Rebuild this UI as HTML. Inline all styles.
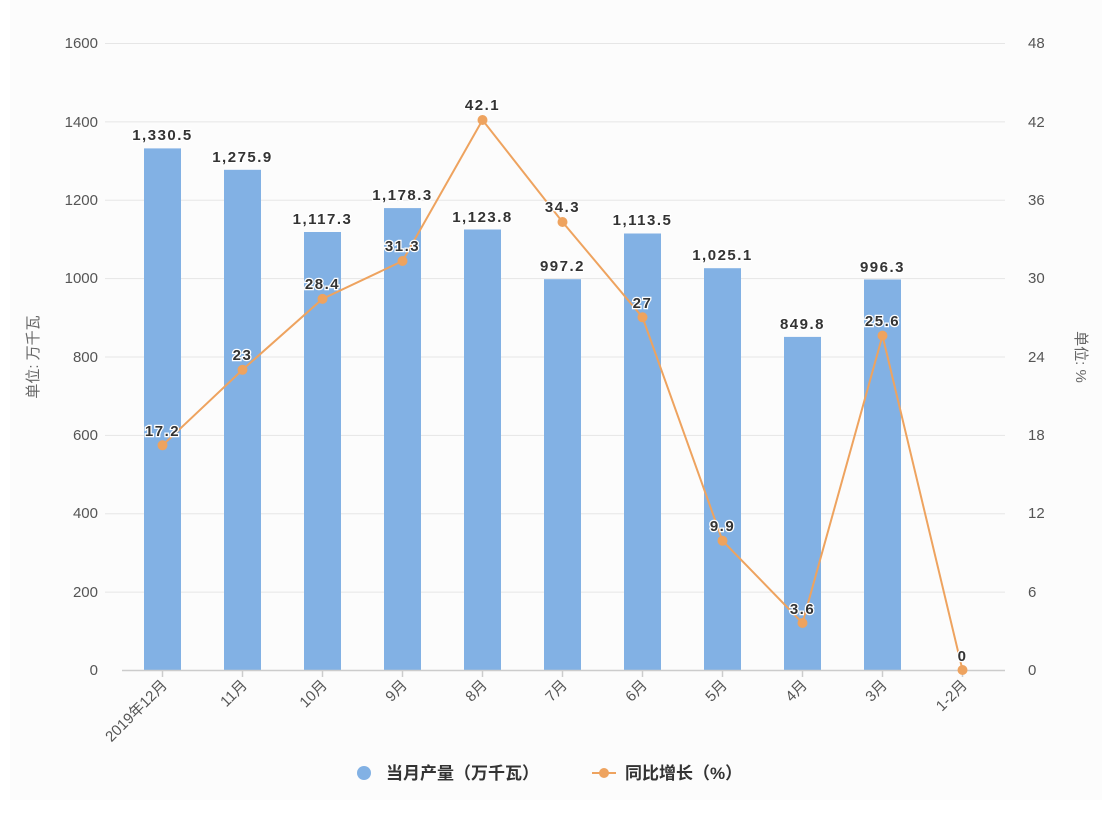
<!DOCTYPE html>
<html><head><meta charset="utf-8"><style>
body{margin:0;background:#fff;}
svg text{font-family:"Liberation Sans","Noto Sans CJK SC",sans-serif;}
</style></head><body>
<svg width="1120" height="818" xmlns="http://www.w3.org/2000/svg">
<rect x="0" y="0" width="1120" height="818" fill="#fff"/>
<rect x="10" y="0" width="1092" height="800" fill="#fcfcfc"/>
<g stroke="#e6e6e6" stroke-width="1">
<line x1="105" y1="43.5" x2="1005" y2="43.5"/>
<line x1="105" y1="121.9" x2="1005" y2="121.9"/>
<line x1="105" y1="200.3" x2="1005" y2="200.3"/>
<line x1="105" y1="278.6" x2="1005" y2="278.6"/>
<line x1="105" y1="357" x2="1005" y2="357"/>
<line x1="105" y1="435.4" x2="1005" y2="435.4"/>
<line x1="105" y1="513.8" x2="1005" y2="513.8"/>
<line x1="105" y1="592.1" x2="1005" y2="592.1"/>
</g>
<g font-size="15" fill="#555" text-anchor="end">
<text x="98" y="48">1600</text><text x="98" y="127">1400</text><text x="98" y="205">1200</text>
<text x="98" y="283">1000</text><text x="98" y="362">800</text><text x="98" y="440">600</text>
<text x="98" y="518">400</text><text x="98" y="597">200</text><text x="98" y="675">0</text>
</g>
<g font-size="15" fill="#555" text-anchor="start">
<text x="1028" y="48">48</text><text x="1028" y="127">42</text><text x="1028" y="205">36</text>
<text x="1028" y="283">30</text><text x="1028" y="362">24</text><text x="1028" y="440">18</text>
<text x="1028" y="518">12</text><text x="1028" y="597">6</text><text x="1028" y="675">0</text>
</g>
<text transform="translate(38,357) rotate(-90)" font-size="15" fill="#666" text-anchor="middle">单位: 万千瓦</text>
<text transform="translate(1076,357) rotate(90)" font-size="15" fill="#666" text-anchor="middle">单位: %</text>
<g fill="#82b1e4">
<rect x="144" y="148.4" width="37" height="521.6"/>
<rect x="224" y="169.8" width="37" height="500.2"/>
<rect x="304" y="232" width="37" height="438"/>
<rect x="384" y="208.1" width="37" height="461.9"/>
<rect x="464" y="229.5" width="37" height="440.5"/>
<rect x="544" y="279.2" width="37" height="390.8"/>
<rect x="624" y="233.5" width="37" height="436.5"/>
<rect x="704" y="268.2" width="37" height="401.8"/>
<rect x="784" y="336.9" width="37" height="333.1"/>
<rect x="864" y="279.5" width="37" height="390.5"/>
</g>
<line x1="122" y1="670.5" x2="1005" y2="670.5" stroke="#ccc" stroke-width="1.5"/>
<g stroke="#ccc" stroke-width="1.5">
<line x1="162.5" y1="670" x2="162.5" y2="677"/><line x1="242.5" y1="670" x2="242.5" y2="677"/>
<line x1="322.5" y1="670" x2="322.5" y2="677"/><line x1="402.5" y1="670" x2="402.5" y2="677"/>
<line x1="482.5" y1="670" x2="482.5" y2="677"/><line x1="562.5" y1="670" x2="562.5" y2="677"/>
<line x1="642.5" y1="670" x2="642.5" y2="677"/><line x1="722.5" y1="670" x2="722.5" y2="677"/>
<line x1="802.5" y1="670" x2="802.5" y2="677"/><line x1="882.5" y1="670" x2="882.5" y2="677"/>
<line x1="962.5" y1="670" x2="962.5" y2="677"/>
</g>
<g font-size="15" fill="#555" text-anchor="end">
<text transform="translate(168,686) rotate(-45)">2019年12月</text>
<text transform="translate(248,686) rotate(-45)">11月</text>
<text transform="translate(328,686) rotate(-45)">10月</text>
<text transform="translate(408,686) rotate(-45)">9月</text>
<text transform="translate(488,686) rotate(-45)">8月</text>
<text transform="translate(568,686) rotate(-45)">7月</text>
<text transform="translate(648,686) rotate(-45)">6月</text>
<text transform="translate(728,686) rotate(-45)">5月</text>
<text transform="translate(808,686) rotate(-45)">4月</text>
<text transform="translate(888,686) rotate(-45)">3月</text>
<text transform="translate(968,686) rotate(-45)">1-2月</text>
</g>
<polyline fill="none" stroke="#eea35f" stroke-width="2" points="162.5,445.3 242.5,369.8 322.5,298.9 402.5,261 482.5,120 562.5,222 642.5,317.3 722.5,540.7 802.5,623 882.5,335.6 962.5,670"/>
<g fill="#eea35f">
<circle cx="162.5" cy="445.3" r="5"/><circle cx="242.5" cy="369.8" r="5"/><circle cx="322.5" cy="298.9" r="5"/>
<circle cx="402.5" cy="261" r="5"/><circle cx="482.5" cy="120" r="5"/><circle cx="562.5" cy="222" r="5"/>
<circle cx="642.5" cy="317.3" r="5"/><circle cx="722.5" cy="540.7" r="5"/><circle cx="802.5" cy="623" r="5"/>
<circle cx="882.5" cy="335.6" r="5"/><circle cx="962.5" cy="670" r="5"/>
</g>
<g font-size="15" font-weight="bold" fill="#333" text-anchor="middle" letter-spacing="1.5" stroke="#fff" stroke-width="2.5" paint-order="stroke">
<text x="162.5" y="140">1,330.5</text><text x="242.5" y="162">1,275.9</text><text x="322.5" y="224">1,117.3</text>
<text x="402.5" y="200">1,178.3</text><text x="482.5" y="222">1,123.8</text><text x="562.5" y="271">997.2</text>
<text x="642.5" y="225">1,113.5</text><text x="722.5" y="260">1,025.1</text><text x="802.5" y="329">849.8</text>
<text x="882.5" y="272">996.3</text>
<text x="162.5" y="436">17.2</text><text x="242.5" y="360">23</text><text x="322.5" y="289">28.4</text>
<text x="402.5" y="251">31.3</text><text x="482.5" y="110">42.1</text><text x="562.5" y="212">34.3</text>
<text x="642.5" y="308">27</text><text x="722.5" y="531">9.9</text><text x="802.5" y="614">3.6</text>
<text x="882.5" y="326">25.6</text><text x="962.5" y="661">0</text>
</g>
<circle cx="364" cy="773" r="7" fill="#82b1e4"/>
<text x="386" y="779" font-size="17" font-weight="bold" fill="#333">当月产量（万千瓦）</text>
<line x1="592" y1="773" x2="616" y2="773" stroke="#eea35f" stroke-width="2"/>
<circle cx="604" cy="773" r="5" fill="#eea35f"/>
<text x="625" y="779" font-size="17" font-weight="bold" fill="#333">同比增长（%）</text>
</svg>
</body></html>
